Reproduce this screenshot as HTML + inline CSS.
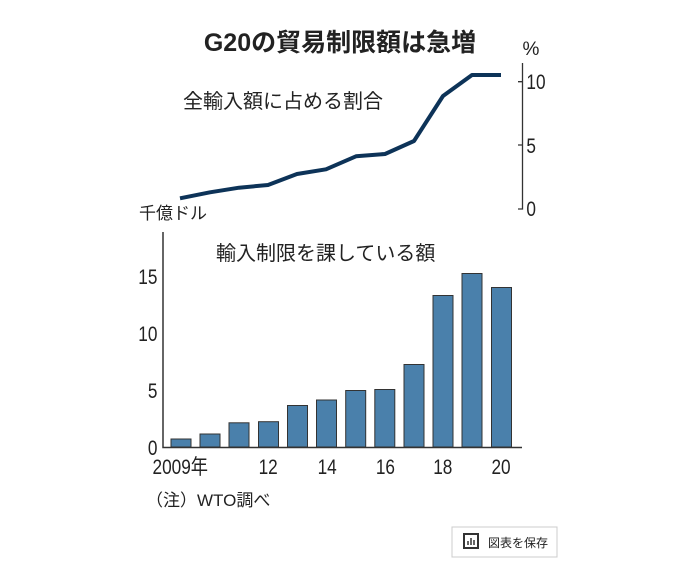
<!DOCTYPE html>
<html><head><meta charset="utf-8"><style>
body{margin:0;background:#fff;width:673px;height:575px;overflow:hidden}
svg text{font-family:"Liberation Sans","Noto Sans CJK JP",sans-serif;fill:#222}
</style></head><body>
<svg width="673" height="575" viewBox="0 0 673 575" xmlns="http://www.w3.org/2000/svg">
<text x="340" y="51" text-anchor="middle" font-size="25" font-weight="bold" fill="#222">G20の貿易制限額は急増</text>
<text x="531" y="55" text-anchor="middle" font-size="19">%</text>
<text x="183" y="108" font-size="20">全輸入額に占める割合</text>
<g stroke="#333" stroke-width="1.3" fill="none">
<path d="M522.5 63 V209 H518 M518 81.7 H522.5 M518 145 H522.5"/>
</g>
<g font-size="21" transform="scale(0.82,1)">
<text x="642" y="89">10</text>
<text x="642" y="153">5</text>
<text x="642" y="216">0</text>
</g>
<polyline fill="none" stroke="#0d3358" stroke-width="4" stroke-linejoin="round" points="180,198.3 210,192.3 239,187.7 268,185 297,174 326,169.3 356,156.3 385,154 414,141 443,96 472,75 501,75"/>
<text x="139" y="219" font-size="17">千億ドル</text>
<text x="216" y="260" font-size="20">輸入制限を課している額</text>
<g fill="#4a80ab" stroke="#333" stroke-width="1">
<rect x="171" y="439" width="20" height="8"/>
<rect x="200" y="434" width="20" height="13"/>
<rect x="229" y="422.8" width="20" height="24.2"/>
<rect x="258.5" y="421.7" width="20" height="25.3"/>
<rect x="287.5" y="405.5" width="20" height="41.5"/>
<rect x="316.5" y="400" width="20" height="47"/>
<rect x="345.7" y="390.5" width="20" height="56.5"/>
<rect x="374.8" y="389.5" width="20" height="57.5"/>
<rect x="404" y="364.5" width="20" height="82.5"/>
<rect x="433" y="295.5" width="20" height="151.5"/>
<rect x="462" y="273.5" width="20" height="173.5"/>
<rect x="491.5" y="287.5" width="20" height="159.5"/>
</g>
<path d="M163 232 V447.5 H522" stroke="#333" stroke-width="1.5" fill="none"/>
<g font-size="21" transform="scale(0.82,1)" text-anchor="end">
<text x="192" y="455">0</text>
<text x="192" y="398">5</text>
<text x="192" y="341">10</text>
<text x="192" y="284">15</text>
</g>
<g font-size="21" transform="scale(0.82,1)">
<text x="327" y="474" text-anchor="middle">12</text>
<text x="399" y="474" text-anchor="middle">14</text>
<text x="470" y="474" text-anchor="middle">16</text>
<text x="540" y="474" text-anchor="middle">18</text>
<text x="611" y="474" text-anchor="middle">20</text>
<text x="186" y="474">2009年</text>
</g>
<text x="146" y="506" font-size="17">（注）WTO調べ</text>
<rect x="452" y="527" width="105" height="30" fill="#fff" stroke="#ccc"/>
<rect x="464" y="534" width="14" height="14" fill="none" stroke="#333" stroke-width="2"/>
<path d="M468 545 v-4 M471 545 v-7 M474 545 v-5" stroke="#333" stroke-width="1.5"/>
<text x="488" y="547" font-size="12" fill="#555">図表を保存</text>
</svg>
</body></html>
